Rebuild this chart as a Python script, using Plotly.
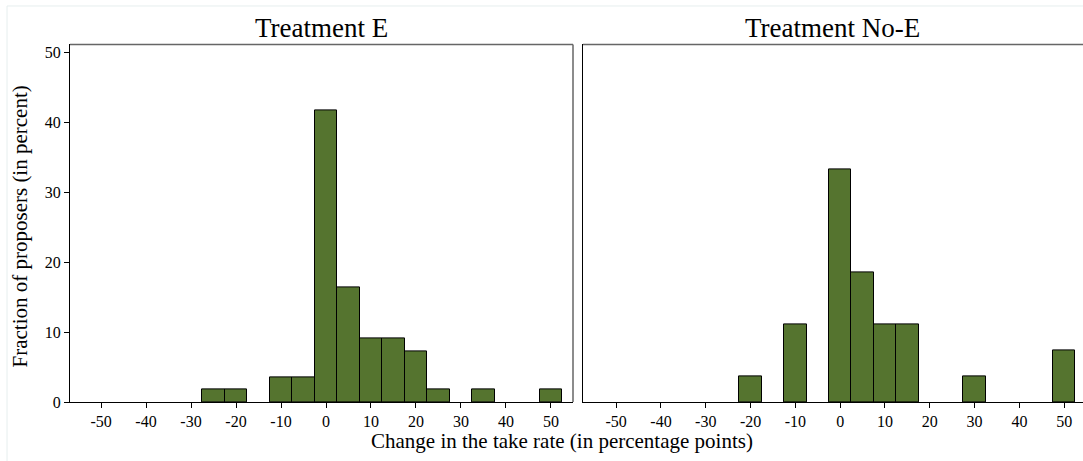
import plotly.graph_objects as go

# Data: bin centres (percentage points) and fraction of proposers (percent)
centers_e = [-25, -20, -10, -5, 0, 5, 10, 15, 20, 25, 35, 50]
values_e = [1.8, 1.8, 3.6, 3.6, 41.8, 16.4, 9.1, 9.1, 7.3, 1.8, 1.8, 1.8]
centers_noe = [-20, -10, 0, 5, 10, 15, 30, 50]
values_noe = [3.7, 11.1, 33.3, 18.5, 11.1, 11.1, 3.7, 7.4]
panel_titles = ["Treatment E", "Treatment No-E"]
x_ticks = [-50, -40, -30, -20, -10, 0, 10, 20, 30, 40, 50]
y_ticks = [0, 10, 20, 30, 40, 50]

BIN_WIDTH = 5
BAR_COLOR = "#55742f"
FONT = "Liberation Serif"
W, H = 1083, 461
HE = 453  # effective rendered height in the viewer

fig = go.Figure()
fig.add_trace(go.Bar(x=centers_e, y=values_e, width=BIN_WIDTH, xaxis="x", yaxis="y",
                     marker=dict(color=BAR_COLOR, line=dict(color="black", width=1)),
                     showlegend=False))
fig.add_trace(go.Bar(x=centers_noe, y=values_noe, width=BIN_WIDTH, xaxis="x2", yaxis="y2",
                     marker=dict(color=BAR_COLOR, line=dict(color="black", width=1)),
                     showlegend=False))

y_dom = [1 - 403 / HE, 1 - 44.5 / HE]
xl_dom = [70 / W, 573 / W]
xr_dom = [583 / W, 1.0]

common_x = dict(tickvals=x_ticks, ticktext=[str(v) for v in x_ticks],
                ticks="outside", ticklen=5, tickcolor="black", showline=True,
                linecolor="black", linewidth=1, showgrid=False, zeroline=False,
                tickfont=dict(family=FONT, size=16, color="black"))
common_y = dict(range=[0, 51.2], showgrid=False, zeroline=False, showline=True,
                linecolor="black", linewidth=1)

fig.update_layout(
    width=W, height=H, autosize=False,
    margin=dict(l=0, r=0, t=0, b=0),
    paper_bgcolor="white", plot_bgcolor="white",
    bargap=0,
    xaxis=dict(domain=xl_dom, anchor="y", range=[-56.9, 54.9], **common_x),
    xaxis2=dict(domain=xr_dom, anchor="y2", range=[-57.4, 54.2], **common_x),
    yaxis=dict(domain=y_dom, anchor="x", tickvals=y_ticks, ticks="outside", ticklen=5,
               tickcolor="black", tickfont=dict(family=FONT, size=16, color="black"),
               **common_y),
    yaxis2=dict(domain=y_dom, anchor="x2", showticklabels=False, ticks="", **common_y),
    font=dict(family=FONT, color="black"),
)

# top frame lines (gray) and right frame of left panel
for xr, yr in [("x domain", "y domain"), ("x2 domain", "y2 domain")]:
    fig.add_shape(type="line", xref=xr, yref=yr, x0=0, x1=1, y0=1, y1=1,
                  line=dict(color="#666666", width=1.5))
fig.add_shape(type="line", xref="x domain", yref="y domain", x0=1, x1=1, y0=0, y1=1,
              line=dict(color="#666666", width=1.5))

# faint outer border
fig.add_shape(type="rect", xref="paper", yref="paper", x0=7 / W, x1=1.01, y0=-0.05, y1=1 - 6 / HE,
              line=dict(color="#e6eeee", width=1), layer="below")

# panel titles
for title, dom in zip(panel_titles, [xl_dom, [583 / W, 1082 / W]]):
    fig.add_annotation(text=title, x=sum(dom) / 2, y=1 - 28 / HE, xref="paper", yref="paper",
                       xanchor="center", yanchor="middle", showarrow=False,
                       font=dict(family=FONT, size=27, color="black"))

# axis titles
fig.add_annotation(text="Change in the take rate (in percentage points)", x=562 / W, y=1 - 442 / HE,
                   xref="paper", yref="paper", xanchor="center", yanchor="middle", showarrow=False,
                   font=dict(family=FONT, size=21, color="black"))
fig.add_annotation(text="Fraction of proposers (in percent)", x=20 / W, y=1 - 227 / HE,
                   xref="paper", yref="paper", xanchor="center", yanchor="middle", showarrow=False,
                   textangle=-90, font=dict(family=FONT, size=21, color="black"))

fig.write_html("out.html",
               config={"responsive": False, "displayModeBar": False},
               post_script="document.body.style.margin='0';document.body.style.overflow='hidden';")
